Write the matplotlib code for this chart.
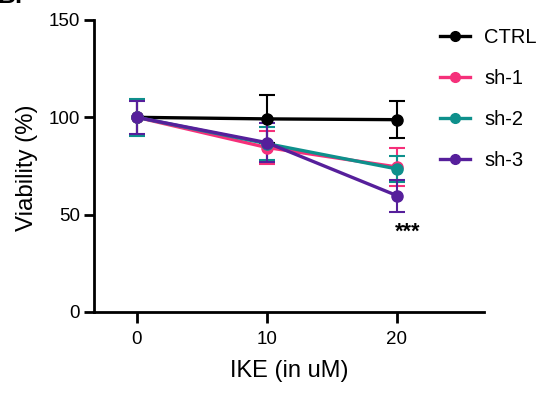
import matplotlib
matplotlib.use("Agg")
import matplotlib.pyplot as plt
from matplotlib.lines import Line2D

plt.rcParams['font.family'] = ['Liberation Sans', 'DejaVu Sans']

doses = [0, 10, 20]
series = ["CTRL", "sh-1", "sh-2", "sh-3"]
means = {
    "CTRL": [100, 99.2, 98.8],
    "sh-1": [100, 84.5, 74.5],
    "sh-2": [100, 86.5, 73.5],
    "sh-3": [100, 87.0, 59.8],
}
errs = {
    "CTRL": [9.0, 12.5, 9.5],
    "sh-1": [9.0, 8.5, 9.8],
    "sh-2": [9.5, 8.5, 6.5],
    "sh-3": [8.5, 10.0, 8.2],
}
colors = {"CTRL": "#000000", "sh-1": "#f5307a", "sh-2": "#0e908c", "sh-3": "#561f9b"}
xticks = [0, 10, 20]
yticks = [0, 50, 100, 150]

fig = plt.figure(figsize=(5.42, 3.94), dpi=100)
ax = fig.add_axes([94/542, 1-312/394, (484-94)/542, (312-20)/394])

for s in series:
    c = colors[s]
    ax.errorbar(doses, means[s], yerr=errs[s], color=c, lw=2.4, marker='o',
                ms=8, capsize=6, elinewidth=1.5, capthick=1.5, label=s, zorder=3)

ax.text(20.8, 41, "***", ha='center', va='center', fontsize=15.5, fontweight='bold')

ax.set_xlim(-3.3, 26.7)
ax.set_ylim(0, 150)
ax.set_xticks(xticks)
ax.set_yticks(yticks)
for sp in ['top', 'right']:
    ax.spines[sp].set_visible(False)
for sp in ['left', 'bottom']:
    ax.spines[sp].set_linewidth(2)
ax.tick_params(axis='x', length=8, width=2, labelsize=13.5, pad=6)
ax.tick_params(axis='y', length=7, width=2, labelsize=13.5, pad=3)
ax.set_xlabel("IKE (in uM)", fontsize=17, labelpad=8)
ax.set_ylabel("Viability (%)", fontsize=17.3)
ax.yaxis.set_label_coords(-0.143, 0.495)

leg_handles = [Line2D([0], [0], color=colors[s], lw=2.4, marker='o', ms=7) for s in series]
fig.legend(leg_handles, series, loc='upper left', bbox_to_anchor=(440/542, 1-28/394),
           frameon=False, fontsize=14.5, handlelength=1.5, handletextpad=0.7,
           labelspacing=1.1, borderaxespad=0, borderpad=0)

fig.text(-0.004, 1-3/394, "B.", fontsize=18, fontweight='bold', va='baseline', ha='left')

fig.savefig("out.png", dpi=100)
